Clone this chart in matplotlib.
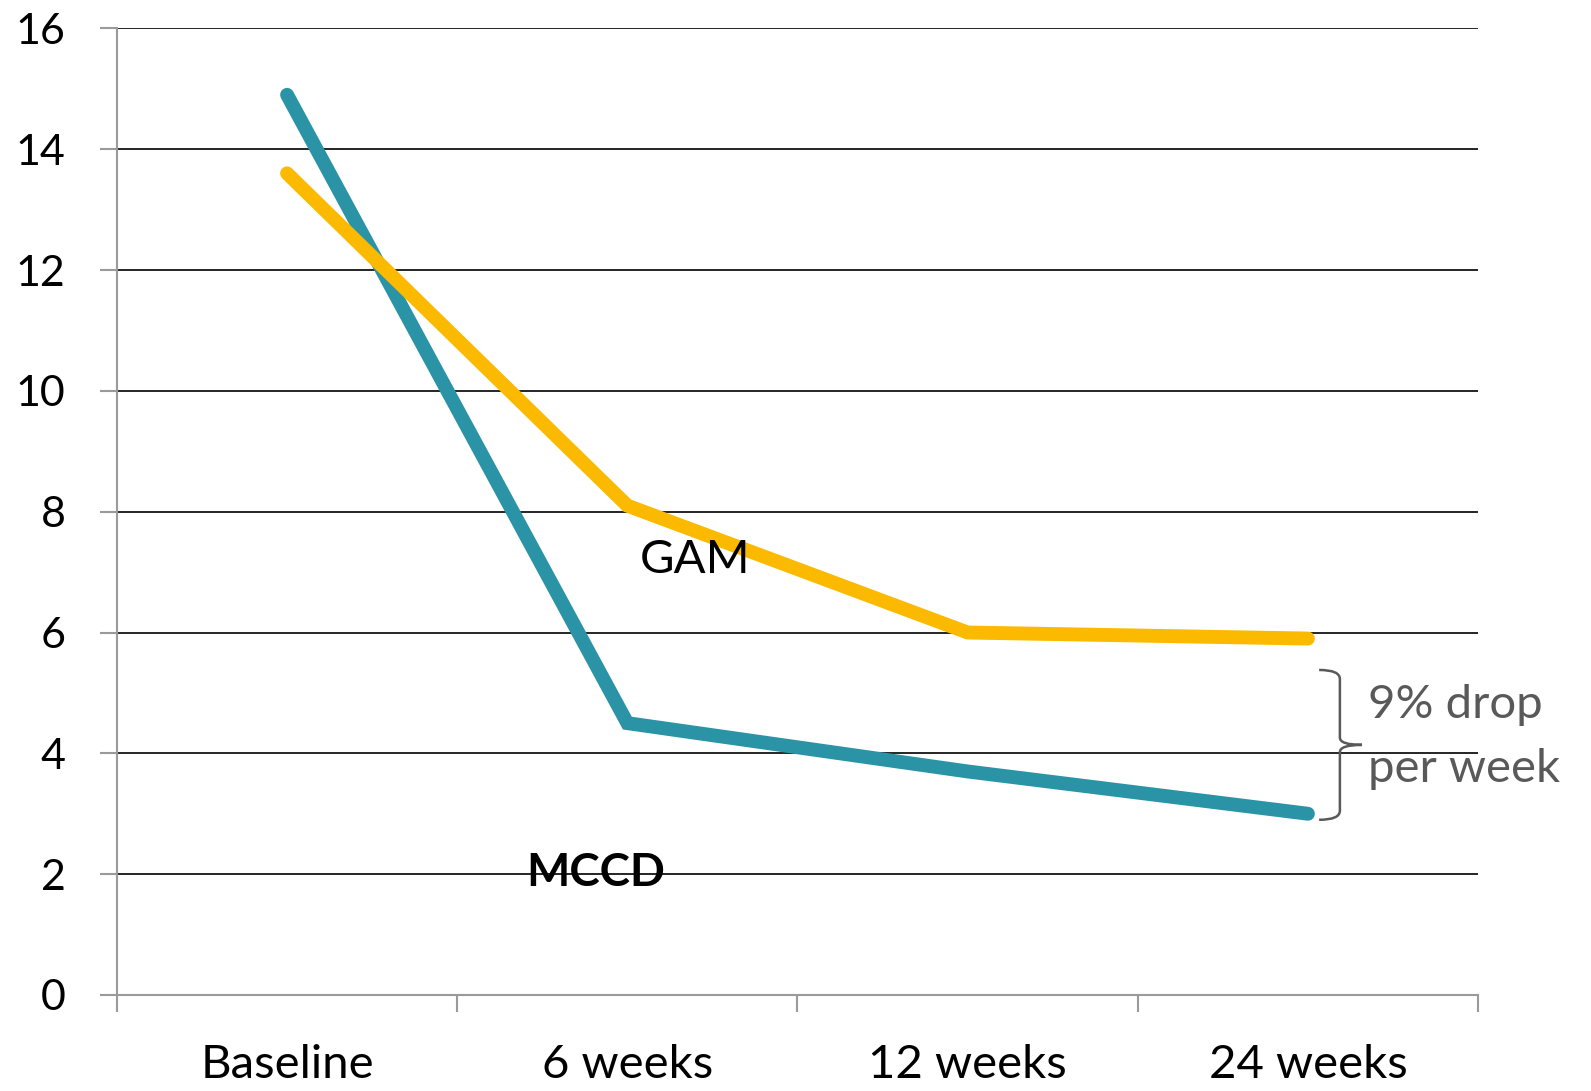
import matplotlib
matplotlib.use("Agg")
import matplotlib.pyplot as plt
from matplotlib.path import Path
from matplotlib.patches import PathPatch

plt.rcParams['font.family'] = ['Lato', 'DejaVu Sans']

categories = ["Baseline", "6 weeks", "12 weeks", "24 weeks"]
mccd = [14.9, 4.5, 3.7, 3.0]
gam = [13.6, 8.1, 6.0, 5.9]
y_ticks = [0, 2, 4, 6, 8, 10, 12, 14, 16]

teal = "#2A93A6"
gold = "#FBB900"
axis_grey = "#9a9a9a"
note_grey = "#595959"

fig = plt.figure(figsize=(15.91, 10.91), dpi=100)
ax = fig.add_axes([0.0735, 0.088, 0.8555, 0.886])

x = list(range(len(categories)))
ax.plot(x, mccd, color=teal, lw=10, solid_capstyle='round', solid_joinstyle='miter', zorder=3)
ax.plot(x, gam, color=gold, lw=10, solid_capstyle='round', solid_joinstyle='miter', zorder=3)

ax.set_xlim(-0.5, 3.5)
ax.set_ylim(0, 16)

# horizontal gridlines
for v in y_ticks[1:]:
    ax.axhline(v, color='black', lw=1.2, zorder=1)

for s in ['top', 'right']:
    ax.spines[s].set_visible(False)
for s in ['left', 'bottom']:
    ax.spines[s].set_color(axis_grey)
    ax.spines[s].set_linewidth(1.5)

ax.set_yticks(y_ticks)
ax.set_yticklabels([str(v) for v in y_ticks])
ax.tick_params(axis='y', length=12, width=1.5, color=axis_grey, pad=25, labelsize=31)

ax.set_xticks(x)
ax.set_xticklabels(categories)
ax.set_xticks([-0.5, 0.5, 1.5, 2.5, 3.5], minor=True)
ax.tick_params(axis='x', which='major', length=0, pad=35, labelsize=34)
ax.tick_params(axis='x', which='minor', length=12, width=1.5, color=axis_grey)

ax.text(1.037, 6.98, "GAM", fontsize=34, va='baseline', ha='left', color='black', zorder=4)
ax.text(0.702, 1.80, "MCCD", fontsize=33, fontweight='bold', va='baseline', ha='left',
        color='black', zorder=4)

# curly brace spanning the gap at the last time point
x0, xs, xt = 3.033, 3.094, 3.159
ytop, ymid, ybot = 5.38, 4.14, 2.90
brace = Path(
    [(x0, ytop), (xs, ytop), (xs, ytop - 0.15),
     (xs, ymid + 0.12), (xs, ymid), (xt, ymid),
     (xs, ymid), (xs, ymid - 0.12),
     (xs, ybot + 0.15), (xs, ybot), (x0, ybot)],
    [Path.MOVETO, Path.CURVE3, Path.CURVE3,
     Path.LINETO, Path.CURVE3, Path.CURVE3,
     Path.CURVE3, Path.CURVE3,
     Path.LINETO, Path.CURVE3, Path.CURVE3])
ax.add_patch(PathPatch(brace, fill=False, edgecolor=note_grey, lw=1.8, clip_on=False, zorder=4))

ax.text(3.177, 4.58, "9% drop", fontsize=34, color=note_grey, va='baseline', ha='left',
        clip_on=False, zorder=4)
ax.text(3.177, 3.52, "per week", fontsize=34, color=note_grey, va='baseline', ha='left',
        clip_on=False, zorder=4)

fig.savefig("out.png", dpi=100)
